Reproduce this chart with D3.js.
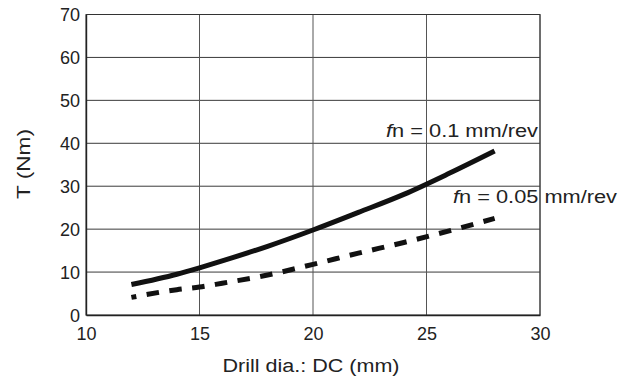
<!DOCTYPE html>
<html><head><meta charset="utf-8">
<script src="https://cdn.jsdelivr.net/npm/d3@7"></script>
<style>
html,body{margin:0;padding:0;background:#fff;}
svg{display:block;font-family:"Liberation Sans",Arial,Helvetica,sans-serif;}
</style></head>
<body>
<svg id="chart" width="631" height="381"></svg>
<script>
// Data
const diameters = [12, 14, 15, 16, 18, 20, 22, 24, 26, 28];
const torqueFn010 = [7.1, 9.5, 11.0, 12.6, 16.0, 19.8, 23.9, 28.1, 33.0, 38.2];
const torqueFn005 = [4.1, 5.9, 6.5, 7.4, 9.3, 11.8, 14.4, 16.9, 19.6, 22.5];
const xTicks = [10, 15, 20, 25, 30];
const yTicks = [0, 10, 20, 30, 40, 50, 60, 70];
const seriesLabels = [{pre: "f", rest: "n = 0.1 mm/rev"}, {pre: "f", rest: "n = 0.05 mm/rev"}];
const xTitle = "Drill dia.: DC (mm)";
const yTitle = "T (Nm)";

const svg = d3.select("#chart");
const L = 86, R = 540, T = 14.5, B = 315;
const x = d3.scaleLinear().domain([10, 30]).range([L, R]);
const y = d3.scaleLinear().domain([0, 70]).range([B, T]);

// grid
svg.append("g").selectAll("line").data(yTicks.slice(1)).join("line")
  .attr("x1", L).attr("x2", R).attr("y1", d => y(d)).attr("y2", d => y(d))
  .attr("stroke", "#3a3a3a").attr("stroke-width", 1);
svg.append("g").selectAll("line").data(xTicks.slice(1)).join("line")
  .attr("y1", T).attr("y2", B).attr("x1", d => x(d)).attr("x2", d => x(d))
  .attr("stroke", "#555").attr("stroke-width", 1);
// frame
svg.append("rect").attr("x", L).attr("y", T).attr("width", R - L).attr("height", B - T)
  .attr("fill", "none").attr("stroke", "#333").attr("stroke-width", 1);

// axes
const xAxis = svg.append("g").attr("transform", `translate(0,${B})`)
  .call(d3.axisBottom(x).tickValues(xTicks).tickSize(0).tickPadding(0));
xAxis.select(".domain").attr("stroke", "#222").attr("stroke-width", 1.6);
xAxis.selectAll("text").attr("font-size", 18).attr("fill", "#222").attr("dy", 0).attr("y", 25);

const yAxis = svg.append("g").attr("transform", `translate(${L},0)`)
  .call(d3.axisLeft(y).tickValues(yTicks).tickSize(0).tickPadding(6));
yAxis.select(".domain").attr("stroke", "#222").attr("stroke-width", 1.4);
yAxis.selectAll("text").attr("font-size", 18).attr("fill", "#222").attr("dy", "0.36em");

// lines
const line = d3.line().x(d => x(d[0])).y(d => y(d[1])).curve(d3.curveMonotoneX);
svg.append("path").datum(diameters.map((d, i) => [d, torqueFn010[i]]))
  .attr("d", line).attr("fill", "none").attr("stroke", "#111").attr("stroke-width", 5);
svg.append("path").datum(diameters.map((d, i) => [d, torqueFn005[i]]))
  .attr("d", line).attr("fill", "none").attr("stroke", "#111").attr("stroke-width", 5)
  .attr("stroke-dasharray", "12.5,10.5").attr("stroke-dashoffset", 7.5);

// series labels
function label(lb, xEnd, yBase, len) {
  const t = svg.append("text").attr("x", xEnd).attr("y", yBase).attr("text-anchor", "end")
    .attr("font-size", 18).attr("fill", "#222").attr("textLength", len).attr("lengthAdjust", "spacingAndGlyphs");
  t.append("tspan").attr("font-style", "italic").text(lb.pre);
  t.append("tspan").text(lb.rest);
}
label(seriesLabels[0], 538, 137, 152);
label(seriesLabels[1], 617, 203, 164);

// axis titles
svg.append("text").attr("x", 311).attr("y", 372).attr("text-anchor", "middle")
  .attr("font-size", 18).attr("fill", "#222").attr("textLength", 177).attr("lengthAdjust", "spacingAndGlyphs")
  .text(xTitle);
svg.append("text").attr("transform", "translate(30,164) rotate(-90)").attr("text-anchor", "middle")
  .attr("font-size", 18).attr("fill", "#222").attr("textLength", 70).attr("lengthAdjust", "spacingAndGlyphs")
  .text(yTitle);
</script>
</body></html>
